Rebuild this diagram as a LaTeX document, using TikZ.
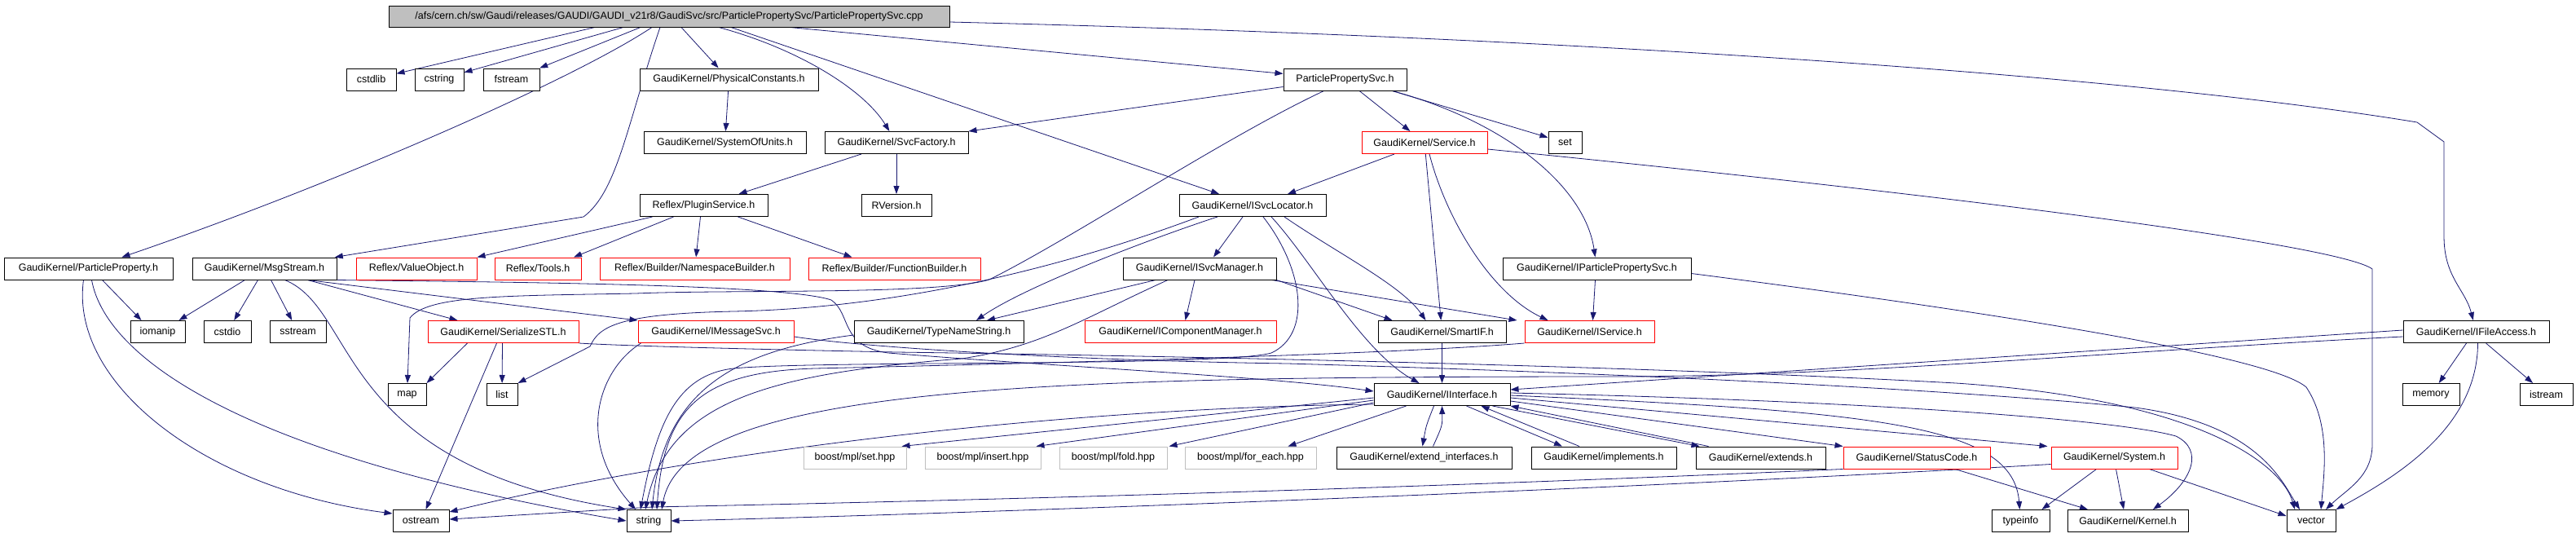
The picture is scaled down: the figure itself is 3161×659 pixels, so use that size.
\documentclass[tikz,border=0pt]{standalone}
\usepackage{fontspec}
\setmainfont{Liberation Sans}
\usetikzlibrary{arrows.meta}
\definecolor{edgeblue}{HTML}{191970}
\definecolor{rootgray}{HTML}{BFBFBF}
\pgfdeclarelayer{edges}
\pgfsetlayers{edges,main}
\tikzset{
  file/.style={draw=black, fill=white, line width=1pt, inner sep=0pt, minimum height=27pt,
    font=\fontsize{12.5}{14}\selectfont},
  trunc/.style={file, draw=red},
  sysfile/.style={file, draw=rootgray},
  rootfile/.style={file, fill=rootgray},
  dep/.style={edgeblue, line width=0.8pt, -{Triangle[length=10pt,width=7pt]}},
}

\begin{document}
\begin{tikzpicture}[x=1pt, y=-1pt]
\useasboundingbox (0,0) rectangle (3161,659);
% the source file
\node[rootfile, minimum width=688pt, minimum height=26pt] (root) at (821,20) {/afs/cern.ch/sw/Gaudi/releases/GAUDI/GAUDI\_v21r8/GaudiSvc/src/ParticlePropertySvc/ParticlePropertySvc.cpp};
% first level
\node[file, minimum width=61pt] (cstdlib) at (455.5,97.5) {cstdlib};
\node[file, minimum width=60pt] (cstring) at (539,97.5) {cstring};
\node[file, minimum width=69pt] (fstream) at (627.5,97.5) {fstream};
\node[file, minimum width=219pt] (physconst) at (894.5,97.5) {GaudiKernel/PhysicalConstants.h};
\node[file, minimum width=151pt] (ppsvch) at (1650.5,97.5) {ParticlePropertySvc.h};
% second level
\node[file, minimum width=199pt] (units) at (889.5,175) {GaudiKernel/SystemOfUnits.h};
\node[file, minimum width=176pt] (svcfactory) at (1100,175) {GaudiKernel/SvcFactory.h};
\node[trunc, minimum width=154pt] (service) at (1748,175) {GaudiKernel/Service.h};
\node[file, minimum width=41pt] (stlset) at (1920.5,175) {set};
% third level
\node[file, minimum width=157pt] (plugin) at (863.5,252) {Reflex/PluginService.h};
\node[file, minimum width=86pt] (rversion) at (1100,252) {RVersion.h};
\node[file, minimum width=180pt] (isvcloc) at (1537,252) {GaudiKernel/ISvcLocator.h};
% fourth level
\node[file, minimum width=207pt] (ppropertyh) at (108.5,329.5) {GaudiKernel/ParticleProperty.h};
\node[file, minimum width=177pt] (msgstream) at (324.5,329.5) {GaudiKernel/MsgStream.h};
\node[trunc, minimum width=148pt] (valueobj) at (511,329.5) {Reflex/ValueObject.h};
\node[trunc, minimum width=106pt] (tools) at (660,329.5) {Reflex/Tools.h};
\node[trunc, minimum width=233pt] (nsbuilder) at (852.5,329.5) {Reflex/Builder/NamespaceBuilder.h};
\node[trunc, minimum width=211pt] (fnbuilder) at (1097.5,329.5) {Reflex/Builder/FunctionBuilder.h};
\node[file, minimum width=188pt] (isvcmgr) at (1472,329.5) {GaudiKernel/ISvcManager.h};
\node[file, minimum width=231pt] (ippsvc) at (1959.5,329.5) {GaudiKernel/IParticlePropertySvc.h};
% fifth level
\node[file, minimum width=67pt] (iomanip) at (193.5,407) {iomanip};
\node[file, minimum width=58pt] (cstdio) at (279,407) {cstdio};
\node[file, minimum width=69pt] (sstream) at (365.5,407) {sstream};
\node[trunc, minimum width=185pt] (serialize) at (617.5,407) {GaudiKernel/SerializeSTL.h};
\node[trunc, minimum width=191pt] (imsgsvc) at (878.5,407) {GaudiKernel/IMessageSvc.h};
\node[file, minimum width=208pt] (typename) at (1152,407) {GaudiKernel/TypeNameString.h};
\node[trunc, minimum width=235pt] (icompmgr) at (1448.5,407) {GaudiKernel/IComponentManager.h};
\node[file, minimum width=157pt] (smartif) at (1769.5,407) {GaudiKernel/SmartIF.h};
\node[trunc, minimum width=159pt] (iservice) at (1950.5,407) {GaudiKernel/IService.h};
\node[file, minimum width=179pt] (ifileaccess) at (3038.5,407) {GaudiKernel/IFileAccess.h};
% sixth level
\node[file, minimum width=47pt] (stlmap) at (499.5,484) {map};
\node[file, minimum width=38pt] (stllist) at (616,484) {list};
\node[file, minimum width=167pt] (iinterface) at (1769.5,484) {GaudiKernel/IInterface.h};
\node[file, minimum width=70pt] (memory) at (2983,484) {memory};
\node[file, minimum width=65pt] (istream) at (3124.5,484) {istream};
% seventh level
\node[sysfile, minimum width=126pt] (mplset) at (1049,561.5) {boost/mpl/set.hpp};
\node[sysfile, minimum width=142pt] (mplinsert) at (1206,561.5) {boost/mpl/insert.hpp};
\node[sysfile, minimum width=132pt] (mplfold) at (1366,561.5) {boost/mpl/fold.hpp};
\node[sysfile, minimum width=161pt] (mplforeach) at (1534.5,561.5) {boost/mpl/for\_each.hpp};
\node[file, minimum width=215pt] (extendif) at (1747.5,561.5) {GaudiKernel/extend\_interfaces.h};
\node[file, minimum width=178pt] (implements) at (1968,561.5) {GaudiKernel/implements.h};
\node[file, minimum width=159pt] (extends) at (2160.5,561.5) {GaudiKernel/extends.h};
\node[trunc, minimum width=180pt] (statuscode) at (2352,561.5) {GaudiKernel/StatusCode.h};
\node[trunc, minimum width=155pt] (system) at (2594.5,561.5) {GaudiKernel/System.h};
% last level
\node[file, minimum width=69pt] (ostream) at (516.5,639) {ostream};
\node[file, minimum width=54pt] (stlstring) at (796,639) {string};
\node[file, minimum width=71pt] (typeinfo) at (2479.5,639) {typeinfo};
\node[file, minimum width=148pt] (kernel) at (2611,639) {GaudiKernel/Kernel.h};
\node[file, minimum width=60pt] (vector) at (2836,639) {vector};

\begin{pgfonlayer}{edges}
% includes of the .cpp file
\draw[dep] ([xshift=-91pt]root.south) -- (cstdlib);
\draw[dep] ([xshift=-56pt]root.south) -- (cstring);
\draw[dep] ([xshift=-35pt]root.south) -- (fstream);
\draw[dep] ([xshift=-21pt]root.south) .. controls (700,100) and (400,230) .. (ppropertyh);
\draw[dep] ([xshift=-11pt]root.south) .. controls (770,150) and (758,235) .. (716,266) -- (msgstream);
\draw[dep] ([xshift=15pt]root.south) -- (physconst);
\draw[dep] ([xshift=61pt]root.south) .. controls (980,60) and (1060,110) .. (svcfactory);
\draw[dep] ([xshift=76pt]root.south) -- (isvcloc);
\draw[dep] ([xshift=148pt]root.south) -- (ppsvch);
\draw[dep] ([yshift=-7pt]root.east) .. controls (1900,45) and (2600,90) .. (2966,150) -- (2999,174) -- (2999,290) .. controls (2999,340) and (3025,355) .. (ifileaccess);
% headers
\draw[dep] (physconst) -- (units);
\draw[dep] ([yshift=-9pt]ppsvch.west) -- (svcfactory.north east);
\draw[dep] (ppsvch) -- (service);
\draw[dep] ([xshift=58pt]ppsvch.south) -- (stlset);
\draw[dep] ([xshift=58pt]ppsvch.south) .. controls (1850,150) and (1945,230) .. (ippsvc);
\draw[dep] ([xshift=-26pt]ppsvch.south) .. controls (1500,170) and (1320,290) .. (1214,343) .. controls (1150,362) and (900,355) .. (780,360) .. controls (620,363) and (525,362) .. (503,390) -- (stlmap);
\draw[dep] (svcfactory) -- (plugin);
\draw[dep] (svcfactory) -- (rversion);
\draw[dep] ([xshift=-37pt]service.south) -- ([xshift=43pt]isvcloc.north);
\draw[dep] (service) -- (smartif);
\draw[dep] ([xshift=6pt]service.south) .. controls (1775,270) and (1830,360) .. ([xshift=-51pt]iservice.north);
\draw[dep] ([yshift=-8pt]service.east) .. controls (2400,240) and (2870,300) .. (2911,330) -- (2911,545) .. controls (2911,585) and (2880,600) .. ([xshift=18pt]vector.north);
% reflex
\draw[dep] ([xshift=-63pt]plugin.south) -- (valueobj.north east);
\draw[dep] ([xshift=-37pt]plugin.south) -- ([xshift=44pt]tools.north);
\draw[dep] ([xshift=-4pt]plugin.south) -- (nsbuilder);
\draw[dep] ([xshift=42pt]plugin.south) -- ([xshift=-52pt]fnbuilder.north);
% service locator
\draw[dep] ([xshift=-12pt]isvcloc.south) -- ([xshift=17pt]isvcmgr.north);
\draw[dep] ([xshift=-43pt]isvcloc.south) .. controls (1420,290) and (1260,350) .. ([xshift=46pt]typename.north);
\draw[dep] ([xshift=-66pt]isvcloc.south) .. controls (1300,330) and (1100,378) .. (900,382) .. controls (760,385) and (735,400) .. (724,425) -- (stllist.north east);
\draw[dep] ([xshift=13pt]isvcloc.south) .. controls (1600,330) and (1610,410) .. (1560,433) .. controls (1500,450) and (1000,442) .. (900,452) .. controls (830,460) and (806,520) .. ([xshift=-10pt]stlstring.north);
\draw[dep] ([xshift=39pt]isvcloc.south) .. controls (1640,310) and (1720,350) .. ([xshift=-20pt]smartif.north);
\draw[dep] ([xshift=23pt]isvcloc.south) .. controls (1610,320) and (1670,430) .. ([xshift=-28pt]iinterface.north);
\draw[dep] ([xshift=-54pt]isvcmgr.south) -- ([xshift=59pt]typename.north);
\draw[dep] ([xshift=-6pt]isvcmgr.south) -- ([xshift=6pt]icompmgr.north);
\draw[dep] (isvcmgr.south east) -- ([xshift=-61pt]smartif.north);
\draw[dep] ([xshift=-6pt]isvcmgr.south east) -- ([xshift=-89pt]iservice.north);
\draw[dep] ([xshift=-39pt]isvcmgr.south) .. controls (1330,390) and (1280,425) .. (1180,440) .. controls (950,458) and (820,490) .. ([xshift=-4pt]stlstring.north);
\draw[dep] ([xshift=-2pt]ippsvc.south) -- ([xshift=4pt]iservice.north);
\draw[dep] ([yshift=-6pt]ippsvc.east) .. controls (2500,390) and (2790,440) .. (2830,475) .. controls (2860,520) and (2852,580) .. ([xshift=12pt]vector.north);
\draw[dep] (smartif) -- (iinterface);
% particle property and message stream
\draw[dep] ([xshift=17pt]ppropertyh.south) -- ([xshift=-20pt]iomanip.north);
\draw[dep] ([xshift=-6pt]ppropertyh.south) .. controls (85,470) and (250,600) .. ([yshift=9pt]ostream.west);
\draw[dep] ([xshift=4pt]ppropertyh.south) .. controls (130,440) and (300,560) .. (stlstring.west);
\draw[dep] ([xshift=-24pt]msgstream.south) -- ([xshift=26pt]iomanip.north);
\draw[dep] ([xshift=-8pt]msgstream.south) -- (cstdio);
\draw[dep] ([xshift=8pt]msgstream.south) -- (sstream);
\draw[dep] ([xshift=25pt]msgstream.south) .. controls (440,380) and (410,570) .. (stlstring.north west);
\draw[dep] ([xshift=53pt]msgstream.south) -- ([xshift=-56pt]serialize.north);
\draw[dep] ([xshift=53pt]msgstream.south) -- (imsgsvc.north west);
\draw[dep] (msgstream.south east) .. controls (600,346) and (960,348) .. (1020,368) .. controls (1045,385) and (1030,425) .. (1090,433) .. controls (1300,450) and (1560,462) .. ([yshift=4pt]iinterface.west);
\draw[dep] ([xshift=-44pt]serialize.south) -- (stlmap.north east);
\draw[dep] ([xshift=-1pt]serialize.south) -- (stllist);
\draw[dep] ([xshift=-8pt]serialize.south) -- ([xshift=6pt]ostream.north);
\draw[dep] (serialize.south east) .. controls (760,424) and (900,428) .. (1100,432) .. controls (1400,436) and (2000,448) .. (2400,470) .. controls (2700,490) and (2800,570) .. ([xshift=-20pt]vector.north);
\draw[dep] ([xshift=-92pt]imsgsvc.south) .. controls (735,453) and (705,540) .. ([xshift=-16pt]stlstring.north);
\draw[dep] ([yshift=-6pt]imsgsvc.east) .. controls (1050,425) and (1300,442) .. (1580,446) .. controls (2000,458) and (2400,478) .. (2620,500) .. controls (2770,520) and (2800,590) .. ([xshift=-14pt]vector.north);
\draw[dep] ([yshift=-4pt]typename.west) .. controls (900,430) and (815,480) .. ([xshift=4pt]stlstring.north);
\draw[dep] (iservice.south west) .. controls (1700,435) and (1300,445) .. (1000,452) .. controls (860,456) and (815,500) .. ([xshift=10pt]stlstring.north);
% file access
\draw[dep] ([xshift=-12pt]ifileaccess.south) -- (memory);
\draw[dep] ([xshift=12pt]ifileaccess.south) -- (istream);
\draw[dep] ([xshift=2pt]ifileaccess.south) .. controls (3040,520) and (2950,580) .. (vector.north east);
\draw[dep] ([yshift=2pt]ifileaccess.west) -- ([yshift=6pt]iinterface.east);
\draw[dep] ([yshift=-6pt]ifileaccess.west) .. controls (2600,430) and (2300,460) .. (2000,462) .. controls (1300,462) and (840,470) .. ([xshift=16pt]stlstring.north);
% interface
\draw[dep] ([yshift=-4pt]iinterface.west) -- ([xshift=-6pt]mplset.north east);
\draw[dep] ([yshift=-7pt]iinterface.west) -- ([xshift=-6pt]mplinsert.north east);
\draw[dep] ([yshift=-10pt]iinterface.west) -- ([xshift=2pt]mplfold.north east);
\draw[dep] ([xshift=-44pt]iinterface.south) -- ([xshift=46pt]mplforeach.north);
\draw[dep] ([xshift=-10pt]iinterface.south) .. controls (1750,522) .. ([xshift=-2pt]extendif.north);
\draw[dep] ([xshift=11pt]extendif.north) .. controls (1770,522) .. (iinterface.south);
\draw[dep] ([xshift=30pt]iinterface.south) -- ([xshift=-51pt]implements.north);
\draw[dep] ([xshift=-30pt]implements.north) -- ([xshift=48pt]iinterface.south);
\draw[dep] ([xshift=62pt]iinterface.south) -- ([xshift=-75pt]extends.north);
\draw[dep] ([xshift=-64pt]extends.north) -- (iinterface.south east);
\draw[dep] ([yshift=-8pt]iinterface.east) -- (statuscode.north west);
\draw[dep] ([yshift=-4pt]iinterface.east) -- ([xshift=-4pt]system.north west);
\draw[dep] ([yshift=-1pt]iinterface.east) .. controls (2300,505) and (2470,520) .. (typeinfo);
\draw[dep] ([yshift=2pt]iinterface.east) .. controls (2300,492) and (2600,515) .. (2670,535) .. controls (2705,552) and (2690,590) .. ([xshift=31pt]kernel.north);
\draw[dep] ([yshift=-12pt]iinterface.west) .. controls (1300,500) and (850,555) .. ([yshift=11pt]ostream.east);
% status code and system
\draw[dep] ([xshift=47pt]statuscode.south) -- ([xshift=-49pt]kernel.north);
\draw[dep] (statuscode.south west) .. controls (1600,605) and (1000,618) .. (800,622) -- ([yshift=2pt]ostream.east);
\draw[dep] ([xshift=-22pt]system.south) -- ([xshift=-10pt]typeinfo.north east);
\draw[dep] ([xshift=2pt]system.south) -- ([xshift=-5pt]kernel.north);
\draw[dep] ([xshift=43pt]system.south) -- ([yshift=6pt]vector.west);
\draw[dep] ([yshift=-8pt]system.west) .. controls (2000,600) and (1200,630) .. (stlstring.east);
\end{pgfonlayer}
\end{tikzpicture}
\end{document}
